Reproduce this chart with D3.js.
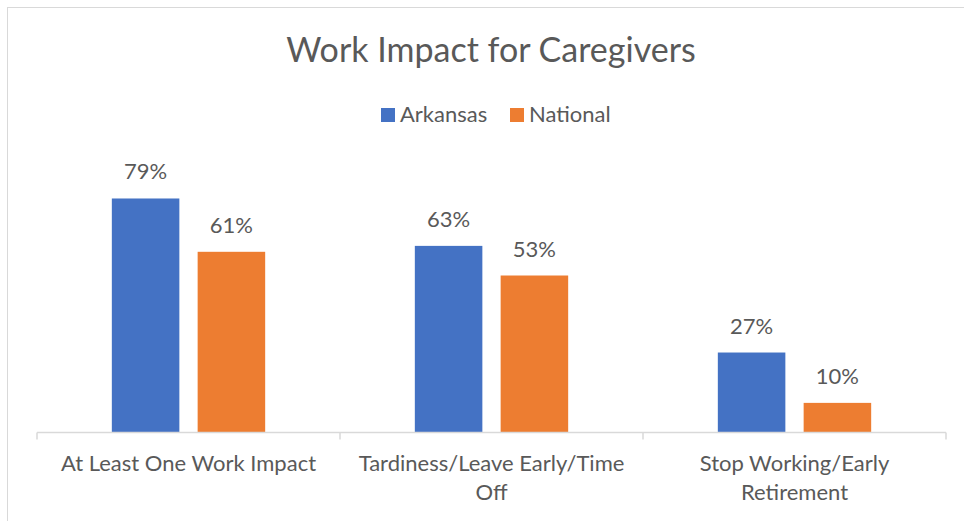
<!DOCTYPE html>
<html>
<head>
<meta charset="utf-8">
<script src="https://cdn.jsdelivr.net/npm/d3@7"></script>
<style>
  body { margin: 0; background: #fff; }
  text { font-family: Lato, "Open Sans", sans-serif; fill: #595959; }
</style>
</head>
<body>
<div id="chart"></div>
<script>
const categories = ["At Least One Work Impact", "Tardiness/Leave Early/Time Off", "Stop Working/Early Retirement"];
const seriesNames = ["Arkansas", "National"];
const arkansas = [79, 63, 27];
const national = [61, 53, 10];
const colors = ["#4472C4", "#ED7D31"];

const width = 964, height = 521;

const svg = d3.select("#chart")
  .append("svg")
  .attr("width", width)
  .attr("height", height);

// chart border (runs off right/bottom like the screenshot)
svg.append("rect")
  .attr("x", 7.5).attr("y", 7.5)
  .attr("width", 1000).attr("height", 600)
  .attr("fill", "none")
  .attr("stroke", "#d9d9d9");

const plotLeft = 37, plotRight = 946;
const baseY = 432.5;

const x0 = d3.scaleBand()
  .domain(categories)
  .range([plotLeft, plotRight])
  .padding(0);

const x1 = d3.scaleBand()
  .domain(seriesNames)
  .range([0, x0.bandwidth()])
  .paddingInner(0.213)
  .paddingOuter(0.872);

const y = d3.scaleLinear()
  .domain([0, 90])
  .range([baseY, baseY - 266.6]);

const rows = categories.map((c, i) => ({
  cat: c,
  vals: [
    { key: "Arkansas", value: arkansas[i] },
    { key: "National", value: national[i] }
  ]
}));

// title
svg.append("text")
  .attr("x", 491).attr("y", 62)
  .attr("text-anchor", "middle")
  .style("font-size", "34px")
  .text("Work Impact for Caregivers");

// legend
const legendPos = [381, 510];
seriesNames.forEach((s, i) => {
  const g = svg.append("g").attr("transform", `translate(${legendPos[i]},0)`);
  g.append("rect")
    .attr("x", 0).attr("y", 108)
    .attr("width", 14).attr("height", 14)
    .attr("fill", colors[i]);
  g.append("text")
    .attr("x", 19).attr("y", 122)
    .style("font-size", "22px")
    .text(s);
});

// bars
const groups = svg.selectAll(".grp")
  .data(rows)
  .join("g")
  .attr("class", "grp")
  .attr("transform", d => `translate(${x0(d.cat)},0)`);

groups.selectAll("rect")
  .data(d => d.vals)
  .join("rect")
  .attr("x", d => x1(d.key))
  .attr("y", d => y(d.value))
  .attr("width", x1.bandwidth())
  .attr("height", d => baseY - y(d.value))
  .attr("fill", (d, i) => colors[i]);

groups.selectAll(".lbl")
  .data(d => d.vals)
  .join("text")
  .attr("class", "lbl")
  .attr("x", d => x1(d.key) + x1.bandwidth() / 2)
  .attr("y", d => y(d.value) - 19)
  .attr("text-anchor", "middle")
  .style("font-size", "22px")
  .text(d => d.value + "%");

// axis line + ticks at category boundaries
svg.append("line")
  .attr("x1", plotLeft).attr("x2", plotRight)
  .attr("y1", baseY).attr("y2", baseY)
  .attr("stroke", "#d9d9d9").attr("stroke-width", 1.5);

const bounds = categories.map(c => x0(c)).concat([plotRight]);
svg.selectAll(".tk")
  .data(bounds)
  .join("line")
  .attr("class", "tk")
  .attr("x1", d => d).attr("x2", d => d)
  .attr("y1", baseY).attr("y2", baseY + 7)
  .attr("stroke", "#d9d9d9").attr("stroke-width", 1.5);

// category labels, wrapped
const xAxis = d3.axisBottom(x0).tickSize(0).tickPadding(0);
const ax = svg.append("g")
  .attr("transform", `translate(0,${baseY})`)
  .call(xAxis);
ax.select(".domain").remove();
ax.selectAll("text")
  .style("font-size", "22px")
  .attr("fill", "#595959")
  .attr("dy", null)
  .attr("y", 38.5)
  .call(wrap, 285);

function wrap(texts, w) {
  texts.each(function() {
    const text = d3.select(this);
    const words = text.text().split(/\s+/);
    const yy = text.attr("y");
    text.text(null);
    let line = [];
    let lineNo = 0;
    let tspan = text.append("tspan").attr("x", 0).attr("y", yy);
    words.forEach(word => {
      line.push(word);
      tspan.text(line.join(" "));
      if (tspan.node().getComputedTextLength() > w && line.length > 1) {
        line.pop();
        tspan.text(line.join(" "));
        line = [word];
        lineNo++;
        tspan = text.append("tspan")
          .attr("x", 0)
          .attr("y", +yy + lineNo * 28.5)
          .text(word);
      }
    });
  });
}
</script>
</body>
</html>
